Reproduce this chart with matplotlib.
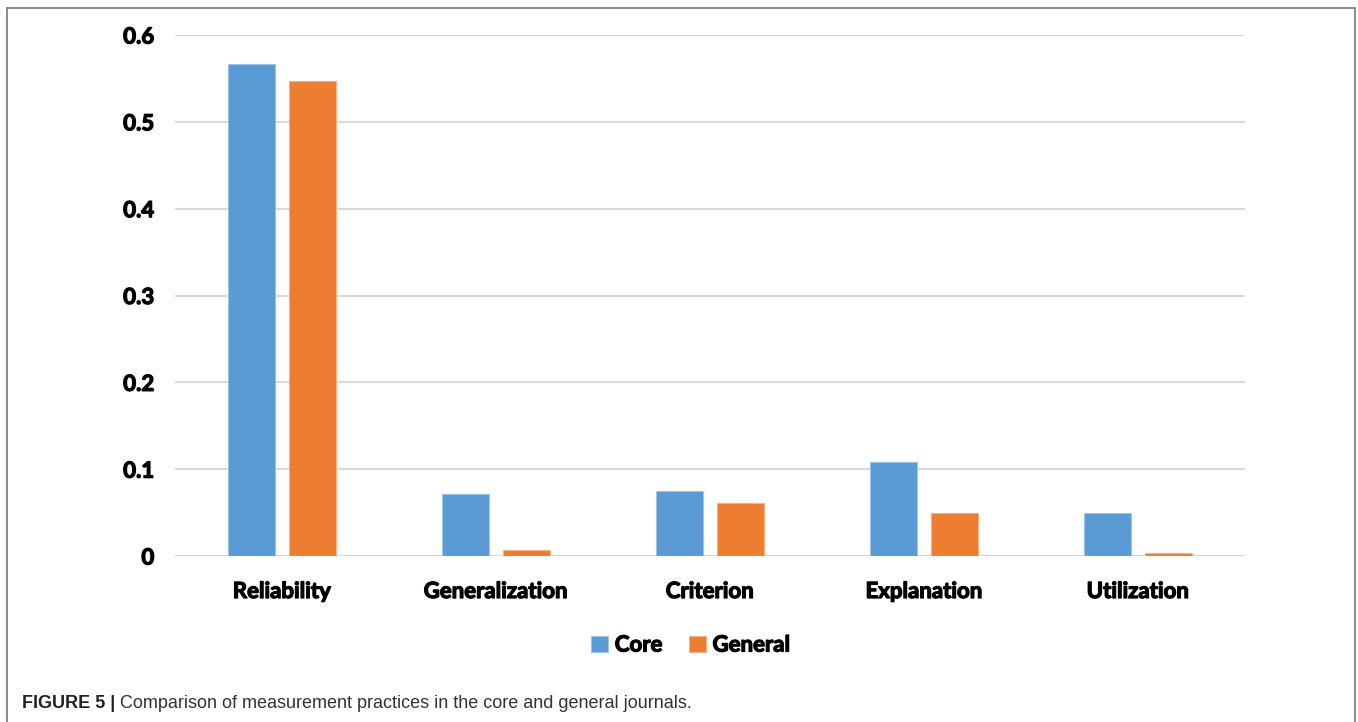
import matplotlib.pyplot as plt
import matplotlib.patheffects as pe
import numpy as np
from matplotlib.patches import Rectangle

# data
categories = ['Reliability', 'Generalization', 'Criterion', 'Explanation', 'Utilization']
core = [0.567, 0.071, 0.075, 0.108, 0.050]
general = [0.547, 0.007, 0.061, 0.050, 0.003]
yticks = [0, 0.1, 0.2, 0.3, 0.4, 0.5, 0.6]
ytick_labels = ['0', '0.1', '0.2', '0.3', '0.4', '0.5', '0.6']

blue = '#5b9bd5'
orange = '#ed7d31'
font = ['Lato', 'DejaVu Sans']
heavy = [pe.withStroke(linewidth=0.9, foreground='black')]

fig = plt.figure(figsize=(13.58, 7.22), dpi=100)
ax = fig.add_axes([175/1358, 1 - 556/722, 1070/1358, 521/722])

x = np.arange(len(categories))
w = 0.22
ax.bar(x - 0.1425, core, w, color=blue, edgecolor='#9dc3e6', linewidth=0.8, label='Core', zorder=3)
ax.bar(x + 0.1425, general, w, color=orange, edgecolor='#f4b183', linewidth=0.8, label='General', zorder=3)

ax.set_xlim(-0.5, 4.5)
ax.set_ylim(0, 0.6)
ax.set_yticks(yticks)
ax.set_yticklabels(ytick_labels, fontsize=16, fontweight='bold', family=font)
ax.set_xticks(x)
ax.set_xticklabels(categories, fontsize=16, fontweight='bold', family=font)
for lab in ax.get_xticklabels() + ax.get_yticklabels():
    lab.set_path_effects(heavy)
ax.tick_params(axis='both', length=0)
ax.tick_params(axis='y', pad=15)
ax.tick_params(axis='x', pad=18)
ax.grid(axis='y', color='#d9d9d9', linewidth=1.5, zorder=0)
for s in ax.spines.values():
    s.set_visible(False)
ax.axhline(0, color='#d9d9d9', linewidth=1.5, zorder=2)

leg = fig.legend(loc='center', bbox_to_anchor=(691/1358, 1 - 645/722), ncol=2, frameon=False,
                 prop={'family': font, 'weight': 'bold', 'size': 16},
                 handlelength=0.75, handleheight=0.75, handletextpad=0.3, columnspacing=1.2)
for t in leg.get_texts():
    t.set_path_effects(heavy)

# frame around the figure panel
fig.patches.append(Rectangle((7/1358, -0.05), 1348/1358, 1 - 8/722 + 0.05, transform=fig.transFigure,
                             fill=False, edgecolor='#777777', linewidth=1.2))

cap_font = ['Liberation Sans', 'DejaVu Sans']
t1 = fig.text(22/1358, 1 - 703/722, 'FIGURE 5 | ', fontsize=13, fontweight='bold',
              family=cap_font, va='center', color='#222222')
fig.canvas.draw()
bb = t1.get_window_extent()
fig.text(bb.x1 / 1358, 1 - 703/722, 'Comparison of measurement practices in the core and general journals.',
         fontsize=13, family=cap_font, va='center', color='#333333')

fig.savefig('out.png', dpi=100)
